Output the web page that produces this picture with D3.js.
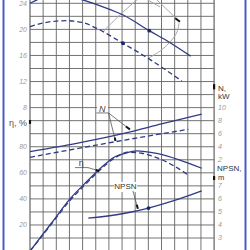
<!DOCTYPE html>
<html><head><meta charset="utf-8">
<script src="https://cdn.jsdelivr.net/npm/d3@7"></script>
<style>html,body{margin:0;padding:0;background:#fff}svg{display:block}</style>
</head><body>
<script>
// ---------- data ----------
const gridCols = d3.range(0, 15);          // flow grid columns
const gridRows = d3.range(0, 19);          // horizontal grid rows
const headTicks = [24, 20, 16, 12, 8];     // H, m (left)
const effTicks = [80, 60, 40, 20];         // eta, % (left)
const powerTicks = [10, 8, 6, 4, 2];       // N, kW (right)
const npshTicks = [7, 6, 5, 4, 3];         // NPSH, m (right)

// head, full impeller
const headFullQ = [0, 0.5, 1.5, 2.3, 3, 4.05, 5.5, 7.09, 9.07, 10.65, 12.22];
const headFullH = [24, 24.5, 25.1, 25.3, 25.1, 24.5, 23.5, 22.2, 19.8, 17.96, 15.9];
// head, trimmed impeller
const headTrimQ = [0, 1, 2.03, 2.8, 4.05, 5.32, 7.07, 8.99, 11.54];
const headTrimH = [20.41, 20.98, 21.28, 21.33, 21.02, 19.9, 17.87, 15.56, 12.08];
// power
const powerFullQ = [0, 4, 7.22, 10, 13.06];
const powerFullN = [3.24, 4.7, 6.1, 7.5, 9.02];
const powerTrimQ = [0, 7.22, 12.04];
const powerTrimN = [2.38, 5.03, 6.67];
// efficiency
const effFullQ = [0, 1.52, 2.28, 2.79, 4.18, 5.2, 6.46, 7.22, 8.11, 9.63, 11.4, 13.06];
const effFullE = [0, 20, 30.1, 37, 51.9, 62, 72.3, 74.9, 76.9, 74.9, 69.8, 63.5];
const effTrimQ = [0, 1.52, 2.28, 2.79, 4.18, 5.2, 6.46, 7.5, 8.5, 9.63, 11, 12.04];
const effTrimE = [0, 19.3, 29.3, 35.8, 50.8, 61, 71.5, 75.8, 75, 71.7, 65, 58.3];
// NPSH
const npshQ = [4.43, 7.22, 9.01, 11.0, 13.06];
const npshV = [4.52, 4.9, 5.3, 5.88, 6.61];
// operating points (dots)
const dotHeadFull = [9.07, 19.8];
const dotHeadTrim = [7.07, 17.87];
const dotNpsh = [9.01, 5.3];

// grey construction lines (col,row grid units)
const arcA = [[5.55, 2.18], [6.69, 1.03], [7.83, 0], [8.14, -0.25]];
const lineB = [[8.97, -0.25], [9.89, 0.28]];
const lineC = [[9.66, -0.25], [11.25, 1.28]];
const arcD = [[11.33, 1.51], [11.18, 2.2], [10.65, 2.97], [9.89, 3.66], [9.0, 4.22]];

// ---------- setup ----------
const W = 250, H = 250;
const svg = d3.select("body").append("svg").attr("width", W).attr("height", H);

const gx = d3.scaleLinear().domain([0, 14]).range([30, 30 + 14 * 13.15]);
const gy = d3.scaleLinear().domain([0, 19]).range([3.3, 3.3 + 19 * 13.04]);
const yHead = d3.scaleLinear().domain([24, 0]).range([gy(0), gy(12)]);
const yEff = d3.scaleLinear().domain([0, 80]).range([gy(19), gy(11)]);
const yPow = d3.scaleLinear().domain([0, 10]).range([gy(13), gy(8)]);
const yNpsh = d3.scaleLinear().domain([0, 7]).range([gy(21), gy(14)]);

const gridCol = "#636363";
const curveCol = "#2f3b85";
const labelCol = "#9a9a9a";

// frame
svg.append("line").attr("x1", 3.5).attr("x2", 3.5).attr("y1", 0).attr("y2", H)
  .attr("stroke", "#4a5cc4").attr("stroke-width", 2);
svg.append("line").attr("x1", 245.5).attr("x2", 245.5).attr("y1", 0).attr("y2", H)
  .attr("stroke", "#4a5cc4").attr("stroke-width", 2);

// grid
svg.append("g").selectAll("line").data(gridCols).join("line")
  .attr("x1", d => gx(d)).attr("x2", d => gx(d)).attr("y1", 0).attr("y2", H)
  .attr("stroke", gridCol).attr("stroke-width", d => (d === 0 || d === 14) ? 1.2 : 0.9);
svg.append("g").selectAll("line").data(gridRows).join("line")
  .attr("x1", gx(0)).attr("x2", gx(14)).attr("y1", d => gy(d)).attr("y2", d => gy(d))
  .attr("stroke", gridCol).attr("stroke-width", 0.9);

// tick labels
const tickFont = "'Liberation Sans', Arial, sans-serif";
function ticks(vals, scale, x, anchor) {
  svg.append("g").selectAll("text").data(vals).join("text")
    .attr("x", x).attr("y", d => scale(d)).attr("dy", "0.35em")
    .attr("text-anchor", anchor).attr("font-family", tickFont)
    .attr("font-size", 7).attr("font-style", "italic").attr("fill", labelCol)
    .text(d => d);
}
ticks(headTicks, yHead, gx(0) - 3, "end");
ticks(effTicks, yEff, gx(0) - 3, "end");
ticks(powerTicks, yPow, gx(14) + 4, "start");
ticks(npshTicks, yNpsh, gx(14) + 4, "start");

// axis titles
const titleFont = "'Liberation Sans', Arial, sans-serif";
svg.append("text").attr("x", gx(0) - 3).attr("y", gy(9.15)).attr("dy", "0.35em")
  .attr("text-anchor", "end").attr("font-family", titleFont).attr("font-size", 9)
  .attr("fill", "#555").text("η, %");
svg.append("text").attr("x", gx(14) + 4).attr("y", gy(6.5)).attr("dy", "0.35em")
  .attr("font-family", titleFont).attr("font-size", 8).attr("fill", "#333").text("N,");
svg.append("text").attr("x", gx(14) + 4).attr("y", gy(7.15)).attr("dy", "0.35em")
  .attr("font-family", titleFont).attr("font-size", 8).attr("fill", "#333").text("kW");
svg.append("text").attr("x", gx(14) + 3).attr("y", 171)
  .attr("font-family", titleFont).attr("font-size", 8).attr("fill", "#333").text("NPSN,");
svg.append("text").attr("x", gx(14) + 4).attr("y", 180.3)
  .attr("font-family", titleFont).attr("font-size", 7.5).attr("fill", "#333").text("m");
// axis arrow marks
[[0, 8.95, 9.25], [14, 6.2, 6.6], [14, 13.25, 13.55]].forEach(([c, r1, r2]) => {
  svg.append("line").attr("x1", gx(c)).attr("x2", gx(c)).attr("y1", gy(r1)).attr("y2", gy(r2))
    .attr("stroke", "#111").attr("stroke-width", 2.2);
});

// grey construction lines
const gline = d3.line().x(d => gx(d[0])).y(d => gy(d[1])).curve(d3.curveCatmullRom);
[arcA, lineB, lineC, arcD].forEach(a => {
  svg.append("path").attr("d", gline(a)).attr("fill", "none")
    .attr("stroke", "#a8a8a8").attr("stroke-width", 1);
});
svg.append("path").attr("d", d3.line()([[gx(11.05), gy(1.15)], [gx(11.4), gy(1.42)]]))
  .attr("stroke", "#111").attr("stroke-width", 2);

// curves
function curve(qs, vs, ys, dashed) {
  const pts = qs.map((q, i) => [gx(q), ys(vs[i])]);
  svg.append("path").attr("d", d3.line().curve(d3.curveMonotoneX)(pts))
    .attr("fill", "none").attr("stroke", curveCol).attr("stroke-width", 1.3)
    .attr("stroke-dasharray", dashed ? "5,3" : null);
}
curve(headFullQ, headFullH, yHead, false);
curve(headTrimQ, headTrimH, yHead, true);
curve(powerFullQ, powerFullN, yPow, false);
curve(powerTrimQ, powerTrimN, yPow, true);
curve(effFullQ, effFullE, yEff, false);
curve(effTrimQ, effTrimE, yEff, true);
curve(npshQ, npshV, yNpsh, false);

// dots
[[dotHeadFull, yHead], [dotHeadTrim, yHead], [dotNpsh, yNpsh]].forEach(([d, s]) => {
  svg.append("circle").attr("cx", gx(d[0])).attr("cy", s(d[1])).attr("r", 1.9).attr("fill", "#1c236b");
});

// curve labels with leaders
const leadCol = "#555";
function seg(a, b, w, c) {
  svg.append("line").attr("x1", gx(a[0])).attr("y1", gy(a[1])).attr("x2", gx(b[0])).attr("y2", gy(b[1]))
    .attr("stroke", c || leadCol).attr("stroke-width", w || 0.8);
}
// N
svg.append("rect").attr("x", gx(5.1)).attr("y", gy(7.75)).attr("width", 11).attr("height", 8).attr("fill", "#fff");
svg.append("text").attr("x", gx(5.5)).attr("y", gy(8.3)).attr("text-anchor", "middle")
  .attr("font-family", titleFont).attr("font-size", 9).attr("font-style", "italic").attr("fill", "#444").text("N");
seg([5.05, 8.41], [5.97, 8.41]);
seg([5.97, 8.41], [7.6, 9.68]);
seg([5.97, 8.41], [6.5, 10.56]);
seg([7.3, 9.45], [7.6, 9.68], 2, "#111");
seg([6.45, 10.3], [6.5, 10.56], 2, "#111");
// eta
svg.append("text").attr("x", gx(3.9)).attr("y", gy(12.45)).attr("text-anchor", "middle")
  .attr("font-family", titleFont).attr("font-size", 9).attr("fill", "#444").text("η");
seg([3.42, 12.6], [4.41, 12.6]);
seg([4.41, 12.6], [5.25, 12.85]);
seg([5.0, 12.78], [5.25, 12.85], 2, "#111");
// NPSN
svg.append("rect").attr("x", gx(6.4)).attr("y", gy(13.7)).attr("width", 23).attr("height", 10).attr("fill", "#fff");
svg.append("text").attr("x", gx(7.26)).attr("y", gy(14.27)).attr("text-anchor", "middle")
  .attr("font-family", titleFont).attr("font-size", 8).attr("fill", "#333").text("NPSN");
seg([7.83, 14.4], [8.2, 15.75]);
seg([8.12, 15.45], [8.2, 15.75], 2, "#111");
</script>
</body></html>
